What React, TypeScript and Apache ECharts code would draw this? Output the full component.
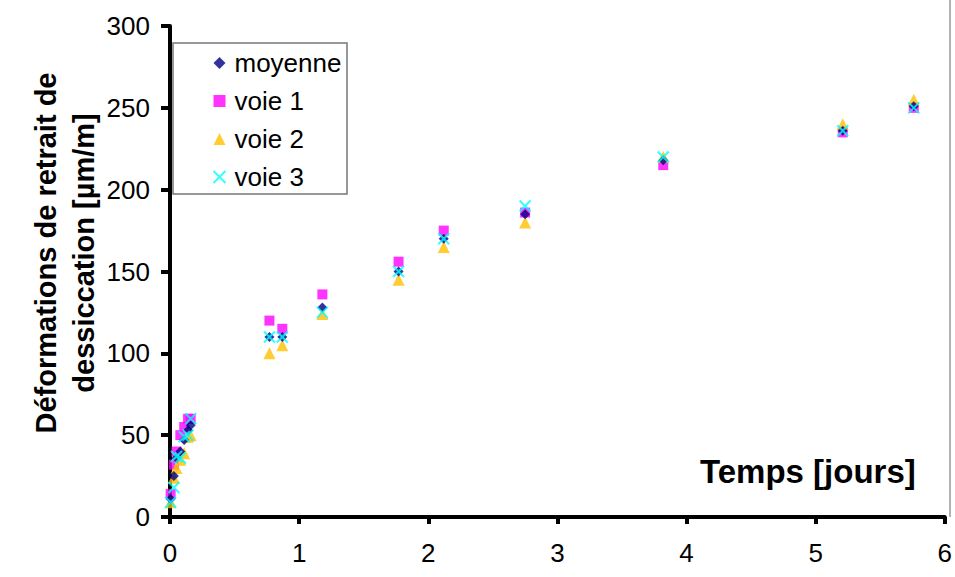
import React, { useEffect, useRef } from "react";
import * as echarts from "echarts";

const times = [0.005, 0.03, 0.05, 0.08, 0.11, 0.14, 0.16, 0.77, 0.87, 1.18, 1.77, 2.12, 2.75, 3.82, 5.21, 5.76];
const moyenne = [11, 25, 36, 40, 47, 53, 56, 110, 110, 128, 150, 170, 185, 218, 236, 251];
const voie1 = [14, 32, 40, 50, 55, 60, 60, 120, 115, 136, 156, 175, 186, 215, 235, 250];
const voie2 = [9, 24, 30, 35, 39, 49, 50, 100, 105, 124, 145, 165, 180, 220, 240, 255];
const voie3 = [9, 18, 37, 36, 49, 50, 60, 110, 110, 125, 150, 170, 190, 220, 236, 250];
const seriesNames = ["moyenne", "voie 1", "voie 2", "voie 3"];
const yTicks = [0, 50, 100, 150, 200, 250, 300];
const xTicks = [0, 1, 2, 3, 4, 5, 6];

const pts = (v: number[]) => times.map((t, i) => [t, v[i]]);

export default function App() {
  const ref = useRef<HTMLDivElement>(null);
  useEffect(() => {
    const chart = echarts.init(ref.current!, null, { renderer: "svg" });
    const font = "Arial, 'Liberation Sans', sans-serif";
    chart.setOption({
      animation: false,
      backgroundColor: "#fff",
      textStyle: { fontFamily: font },
      grid: { left: 170, right: 3, top: 26, bottom: 60 },
      xAxis: {
        type: "value",
        min: xTicks[0],
        max: xTicks[xTicks.length - 1],
        interval: 1,
        axisLine: { lineStyle: { color: "#000", width: 4 } },
        axisTick: { show: true, length: 7, lineStyle: { color: "#000", width: 4 } },
        axisLabel: { color: "#000", fontSize: 26, margin: 23, fontFamily: font },
        splitLine: { show: false },
      },
      yAxis: {
        type: "value",
        min: yTicks[0],
        max: yTicks[yTicks.length - 1],
        interval: 50,
        axisLine: { show: true, lineStyle: { color: "#000", width: 4 } },
        axisTick: { show: true, length: 9, lineStyle: { color: "#000", width: 4 } },
        axisLabel: { color: "#000", fontSize: 26, margin: 20, fontFamily: font },
        splitLine: { show: false },
      },
      legend: {
        orient: "vertical",
        left: 206,
        top: 45,
        itemGap: 12,
        itemWidth: 12,
        itemHeight: 12,
        textStyle: { fontSize: 26, lineHeight: 26, color: "#000", fontFamily: font, padding: [0, 0, 0, 4] },
        data: seriesNames,
      },
      graphic: [
        {
          type: "rect",
          shape: { x: 173, y: 43, width: 174, height: 151 },
          style: { fill: "none", stroke: "#777", lineWidth: 1.5 },
          z: 0,
        },
        {
          type: "line",
          shape: { x1: 950, y1: 0, x2: 950, y2: 517 },
          style: { stroke: "#999", lineWidth: 1.5 },
        },
        {
          type: "text",
          x: 700,
          y: 455,
          style: { text: "Temps [jours]", fill: "#000", font: "bold 33px Arial, 'Liberation Sans', sans-serif" },
        },
        {
          type: "text",
          x: 27,
          y: 253,
          rotation: Math.PI / 2,
          style: {
            text: "Déformations de retrait de\ndessiccation [µm/m]",
            font: "bold 29px Arial, 'Liberation Sans', sans-serif",
            fill: "#000",
            align: "center",
            verticalAlign: "top",
            lineHeight: 38,
          },
        },
      ],
      series: [
        {
          name: seriesNames[0],
          type: "scatter",
          data: pts(moyenne),
          symbol: "diamond",
          symbolSize: 10,
          itemStyle: { color: "#000080" },
          z: 4,
        },
        {
          name: seriesNames[1],
          type: "scatter",
          data: pts(voie1),
          symbol: "rect",
          symbolSize: 10,
          itemStyle: { color: "#FF00FF" },
          z: 2,
        },
        {
          name: seriesNames[2],
          type: "scatter",
          data: pts(voie2),
          symbol: "triangle",
          symbolSize: 12,
          itemStyle: { color: "#FFC000" },
          z: 3,
        },
        {
          name: seriesNames[3],
          type: "scatter",
          data: pts(voie3),
          symbol: "path://M0,0L10,10M10,0L0,10",
          symbolSize: 11,
          itemStyle: { color: "none", borderColor: "#00FFFF", borderWidth: 2 },
          z: 5,
        },
      ],
    });
    return () => chart.dispose();
  }, []);
  return <div ref={ref} style={{ width: 955, height: 577, position: "absolute", left: 0, top: 0 }} />;
}
